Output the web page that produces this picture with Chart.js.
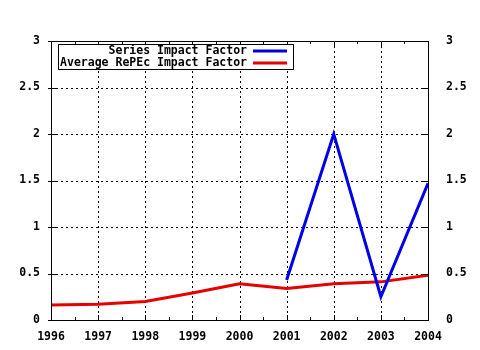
<!DOCTYPE html>
<html>
<head>
<meta charset="utf-8">
<script src="https://cdn.jsdelivr.net/npm/chart.js@4/dist/chart.umd.min.js"></script>
<style>
  html, body { margin: 0; padding: 0; background: #fff; }
  #wrap { width: 480px; height: 350px; }
</style>
</head>
<body>
<div id="wrap"><canvas id="chart" width="480" height="350"></canvas></div>
<script>
const YEARS = [1996, 1997, 1998, 1999, 2000, 2001, 2002, 2003, 2004];
const SERIES_YEARS = [2001, 2002, 2003, 2004];
const SERIES_IF = [0.43, 2.0, 0.25, 1.47];
const AVERAGE_IF = [0.16, 0.17, 0.20, 0.29, 0.39, 0.34, 0.39, 0.41, 0.48];
const Y_TICKS = [0, 0.5, 1, 1.5, 2, 2.5, 3];

const FONT = { family: '"DejaVu Sans Mono", monospace', size: 11.5, weight: 'bold' };
const BLUE = 'rgb(0,0,230)';
const RED = 'rgb(230,0,0)';

const toPoints = (xs, ys) => xs.map((x, i) => ({ x: x, y: ys[i] }));

// dotted grid under the data
const gridPlugin = {
    id: 'dottedGrid',
    beforeDatasetsDraw(chart) {
        const { ctx, chartArea: a, scales } = chart;
        ctx.save();
        ctx.strokeStyle = '#000';
        ctx.lineWidth = 1;
        ctx.setLineDash([2, 3]);
        ctx.beginPath();
        YEARS.slice(1, -1).forEach(v => {
            const px = Math.round(scales.x.getPixelForValue(v)) + 0.5;
            ctx.moveTo(px, a.top); ctx.lineTo(px, a.bottom);
        });
        Y_TICKS.slice(1, -1).forEach(v => {
            const py = Math.round(scales.y.getPixelForValue(v)) + 0.5;
            ctx.moveTo(a.left, py); ctx.lineTo(a.right, py);
        });
        ctx.stroke();
        ctx.restore();
    }
};

// gnuplot-like frame, inward ticks, and legend box
const framePlugin = {
    id: 'frame',
    afterDraw(chart) {
        const { ctx, chartArea: a, scales } = chart;
        ctx.save();
        ctx.strokeStyle = '#000';
        ctx.lineWidth = 1;
        ctx.strokeRect(a.left + 0.5, a.top + 0.5, a.right - a.left, a.bottom - a.top);
        ctx.beginPath();
        // x ticks (major + half-year minor), top and bottom
        for (let v = YEARS[0]; v <= YEARS[YEARS.length - 1]; v += 0.5) {
            const px = Math.round(scales.x.getPixelForValue(v)) + 0.5;
            const len = Number.isInteger(v) ? 5 : 3;
            ctx.moveTo(px, a.bottom); ctx.lineTo(px, a.bottom - len);
            ctx.moveTo(px, a.top); ctx.lineTo(px, a.top + len);
        }
        // y ticks, left and right
        Y_TICKS.forEach(v => {
            const py = Math.round(scales.y.getPixelForValue(v)) + 0.5;
            ctx.moveTo(a.left - 3, py); ctx.lineTo(a.left + 5, py);
            ctx.moveTo(a.right, py); ctx.lineTo(a.right - 5, py);
        });
        ctx.stroke();

        // legend
        const bx = a.left + 7, by = a.top + 3, bw = 235, bh = 25;
        ctx.fillStyle = '#fff';
        ctx.fillRect(bx, by, bw, bh);
        ctx.strokeRect(bx + 0.5, by + 0.5, bw, bh);
        ctx.font = `${FONT.weight} ${FONT.size}px ${FONT.family}`;
        ctx.textAlign = 'right';
        ctx.textBaseline = 'middle';
        chart.data.datasets.forEach((ds, i) => {
            const ty = by + 7 + i * 12;
            ctx.fillStyle = '#000';
            ctx.fillText(ds.label, bx + 189, ty);
            ctx.strokeStyle = ds.borderColor;
            ctx.lineWidth = 3;
            ctx.beginPath();
            ctx.moveTo(bx + 195, ty); ctx.lineTo(bx + 229, ty);
            ctx.stroke();
        });
        ctx.restore();
    }
};

new Chart(document.getElementById('chart'), {
    type: 'line',
    data: {
        datasets: [
            {
                label: 'Series Impact Factor',
                data: toPoints(SERIES_YEARS, SERIES_IF),
                borderColor: BLUE,
                borderWidth: 3,
                pointRadius: 0,
                tension: 0
            },
            {
                label: 'Average RePEc Impact Factor',
                data: toPoints(YEARS, AVERAGE_IF),
                borderColor: RED,
                borderWidth: 3,
                pointRadius: 0,
                tension: 0
            }
        ]
    },
    options: {
        responsive: false,
        animation: false,
        events: [],
        layout: { padding: { top: 41, left: 0, right: 0, bottom: 0 } },
        plugins: { legend: { display: false }, tooltip: { enabled: false } },
        scales: {
            x: {
                type: 'linear',
                min: YEARS[0],
                max: YEARS[YEARS.length - 1],
                afterFit: s => { s.height = 30; },
                afterBuildTicks: s => { s.ticks = YEARS.map(v => ({ value: v })); },
                ticks: { color: '#000', font: FONT, padding: 2, maxRotation: 0, callback: v => String(v) },
                grid: { display: false },
                border: { display: false }
            },
            y: {
                min: 0,
                max: 3,
                position: 'left',
                afterFit: s => { s.width = 51; },
                afterBuildTicks: s => { s.ticks = Y_TICKS.map(v => ({ value: v })); },
                ticks: { color: '#000', font: FONT, padding: 3, callback: v => String(v) },
                grid: { display: false },
                border: { display: false }
            },
            y2: {
                min: 0,
                max: 3,
                position: 'right',
                afterFit: s => { s.width = 52; },
                afterBuildTicks: s => { s.ticks = Y_TICKS.map(v => ({ value: v })); },
                ticks: { color: '#000', font: FONT, padding: 10, callback: v => String(v) },
                grid: { display: false },
                border: { display: false }
            }
        }
    },
    plugins: [gridPlugin, framePlugin]
});
</script>
</body>
</html>
